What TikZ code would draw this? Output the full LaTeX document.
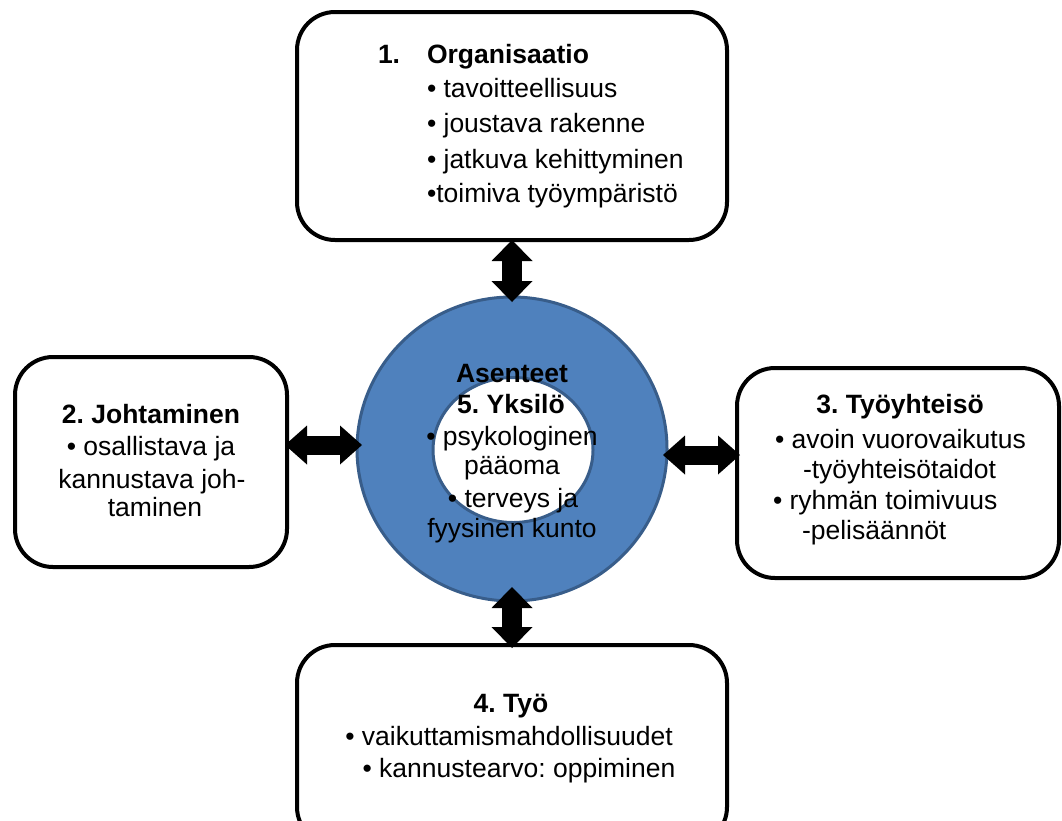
\documentclass[tikz,border=0pt]{standalone}
\usepackage{fontspec}
\setmainfont{Liberation Sans}
\usetikzlibrary{arrows.meta,shapes.geometric}
\definecolor{ringfill}{RGB}{79,129,189}
\definecolor{ringline}{RGB}{56,93,138}
\frenchspacing
\begin{document}
\frenchspacing
\begin{tikzpicture}[x=1pt,y=-1pt,
  box/.style={draw=black, line width=4pt, rounded corners=38pt, fill=white, inner sep=0pt, outer sep=0pt},
  ringshape/.style={ellipse, draw=ringline, line width=3pt, inner sep=0pt, outer sep=0pt},
  txt/.style={inner sep=0pt, outer sep=0pt, font=\fontsize{26.5}{32}\selectfont\frenchspacing},
  dblv/.style={line width=20pt, {Triangle[width=41pt,length=21pt,line width=0pt]}-{Triangle[width=41pt,length=21pt,line width=0pt]}},
  dblh/.style={line width=19pt, {Triangle[width=39pt,length=22pt,line width=0pt]}-{Triangle[width=39pt,length=22pt,line width=0pt]}}]
\useasboundingbox (0,0) rectangle (1062,820);
\clip (0,0) rectangle (1062,820);
% boxes
\node[box, minimum width=430pt, minimum height=228pt] (org) at (512,126) {};
\node[box, minimum width=272pt, minimum height=210pt] (joh) at (151,462) {};
\node[box, minimum width=322pt, minimum height=210pt] (yht) at (898,473) {};
\node[box, minimum width=430pt, minimum height=200pt] (tyo) at (512,745) {};
% ring
\node[ringshape, fill=ringfill, minimum width=310pt, minimum height=304pt] (ring) at (512,449) {};
\node[ringshape, fill=white, minimum width=160pt, minimum height=145pt] (core) at (513,450) {};
% arrows
\draw[dblv, shorten >=-5pt] (org.south) -- (ring.north);
\draw[dblv, shorten <=-14pt, shorten >=-3pt] (ring.south) -- (tyo.north);
\path (joh.east) ++(0,-17) coordinate (jL);
\draw[dblh, shorten <=-2pt, shorten >=-5pt] (jL) -- (ring.west |- jL);
\path (yht.west) ++(0,-18) coordinate (yR);
\draw[dblh, shorten <=-4pt, shorten >=-3pt] (ring.east |- yR) -- (yR);
% texts: box 1
\node[txt, anchor=base west] (o0) at (378,63) {\textbf{1.}};
\node[txt, anchor=base west] (o1) at (427,63) {\textbf{Organisaatio}};
\node[txt, anchor=base west] (o2) at (427,97) {• tavoitteellisuus};
\node[txt, anchor=base west] (o3) at (427,132) {• joustava rakenne};
\node[txt, anchor=base west] (o4) at (427,168) {• jatkuva kehittyminen};
\node[txt, anchor=base west] (o5) at (427,202) {•toimiva työympäristö};
% box 2
\node[txt, anchor=base] (j1) at (151,423) {\textbf{2. Johtaminen}};
\node[txt, anchor=base] (j2) at (151,455) {• osallistava ja};
\node[txt, anchor=base] (j3) at (152,488) {kannustava joh-};
\node[txt, anchor=base] (j4) at (155,516) {taminen};
% box 3
\node[txt, anchor=base] (y1) at (900,413) {\textbf{3. Työyhteisö}};
\node[txt, anchor=base west] (y2) at (775,448) {• avoin vuorovaikutus};
\node[txt, anchor=base west] (y3) at (803,478) {-työyhteisötaidot};
\node[txt, anchor=base west] (y4) at (773,509) {• ryhmän toimivuus};
\node[txt, anchor=base west] (y5) at (802,539) {-pelisäännöt};
% box 4
\node[txt, anchor=base] (t1) at (511,712) {\textbf{4. Työ}};
\node[txt, anchor=base] (t2) at (509,745) {• vaikuttamismahdollisuudet};
\node[txt, anchor=base] (t3) at (519,777) {• kannustearvo: oppiminen};
% ring texts
\node[txt, anchor=base] (r1) at (512,382) {\textbf{Asenteet}};
\node[txt, anchor=base] (r2) at (511,413) {\textbf{5. Yksilö}};
\node[txt, anchor=base] (r3) at (512,445) {• psykologinen};
\node[txt, anchor=base] (r4) at (512,474) {pääoma};
\node[txt, anchor=base] (r5) at (513,507) {• terveys ja};
\node[txt, anchor=base] (r6) at (512,537) {fyysinen kunto};
\end{tikzpicture}
\end{document}
